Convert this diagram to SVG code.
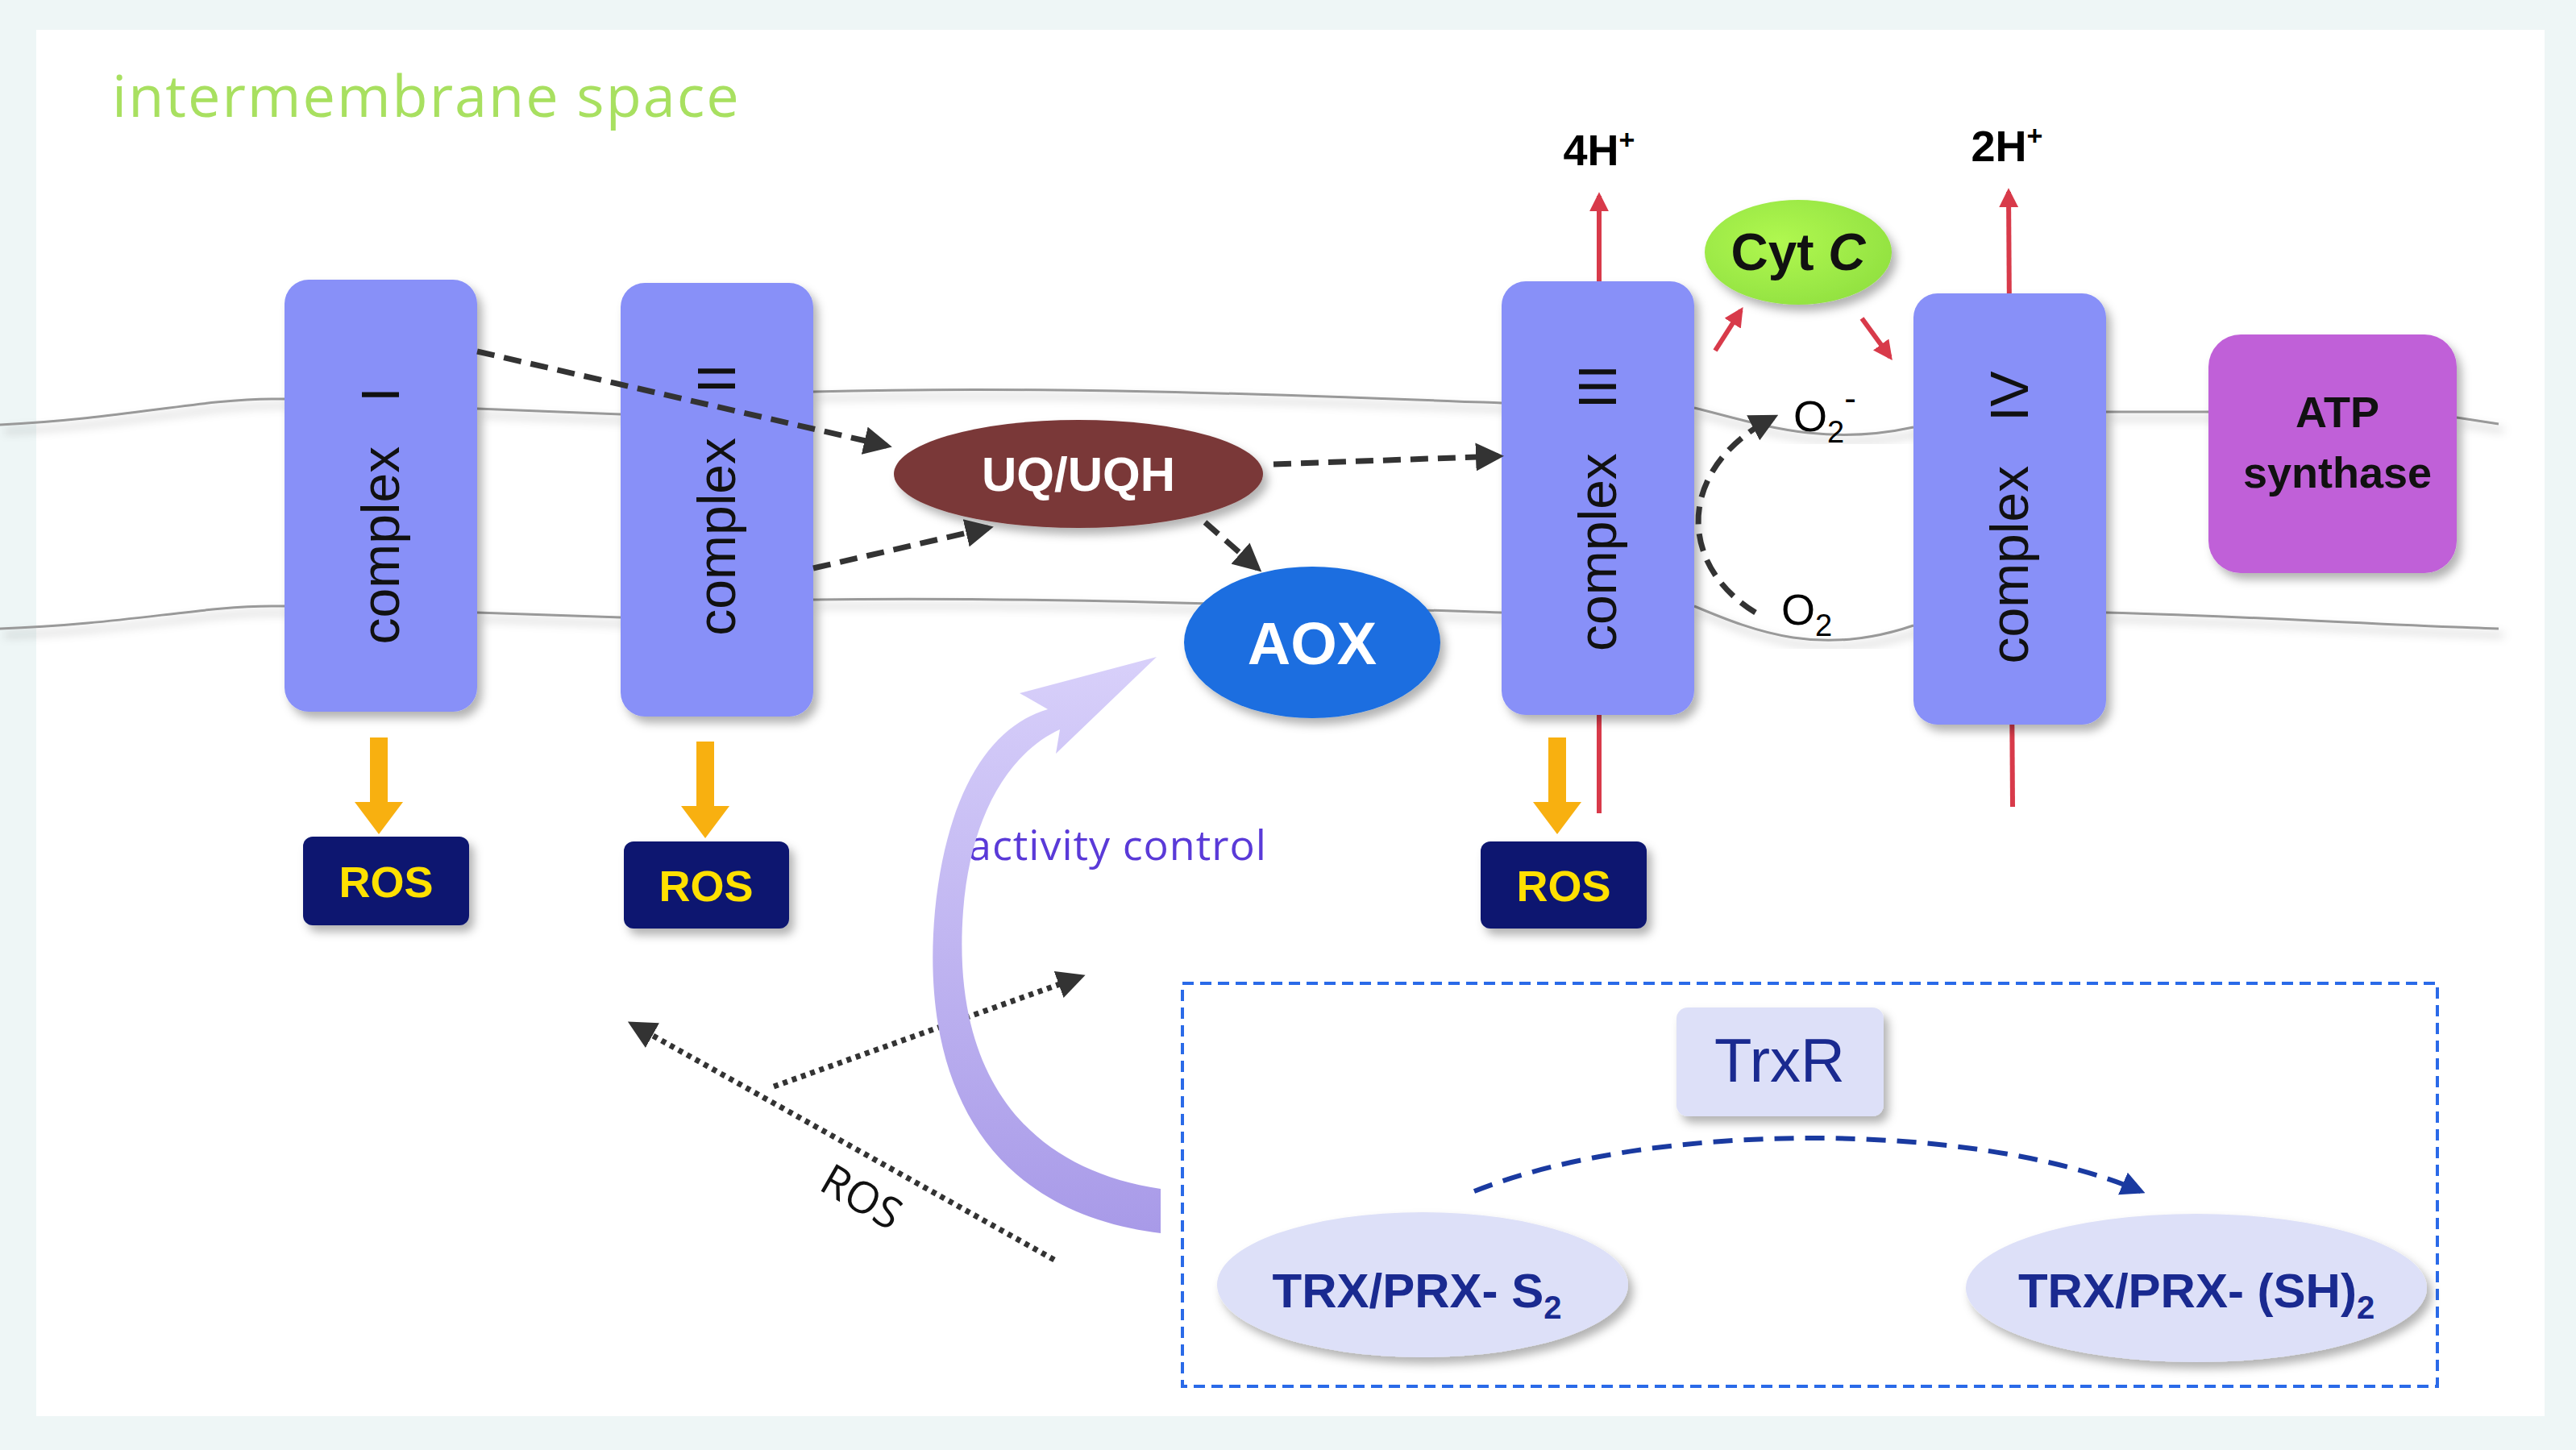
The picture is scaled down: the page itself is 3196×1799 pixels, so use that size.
<svg xmlns="http://www.w3.org/2000/svg" width="3196" height="1799" viewBox="0 0 3196 1799">
<defs>
<filter id="sh" x="-20%" y="-20%" width="140%" height="140%"><feDropShadow dx="6" dy="8" stdDeviation="6" flood-color="#000" flood-opacity="0.3"/></filter>
<marker id="ad" viewBox="0 0 10 10" refX="8" refY="5" markerWidth="5" markerHeight="5" orient="auto"><path d="M0,0 L10,5 L0,10 z" fill="#333"/></marker>
<marker id="ab" viewBox="0 0 10 10" refX="8" refY="5" markerWidth="5" markerHeight="5" orient="auto"><path d="M0,0 L10,5 L0,10 z" fill="#1a3aa0"/></marker>
<marker id="ar" viewBox="0 0 10 10" refX="8" refY="5" markerWidth="4" markerHeight="4" orient="auto"><path d="M0,0 L10,5 L0,10 z" fill="#d83a4a"/></marker>
<linearGradient id="pg" x1="0" y1="1" x2="0" y2="0"><stop offset="0" stop-color="#a89ae8"/><stop offset="1" stop-color="#d8d0fa"/></linearGradient>
<radialGradient id="cg" cx="0.4" cy="0.4" r="0.7"><stop offset="0" stop-color="#b0f850"/><stop offset="1" stop-color="#90e040"/></radialGradient>
</defs>
<style>
.cx{fill:#8890f8;filter:url(#sh)}
.ct{font-family:"Liberation Sans",Arial,sans-serif;font-size:66px;fill:#111}
.mem{fill:none;stroke:#999;stroke-width:3;filter:url(#sh)}
.ros{fill:#0c1670;filter:url(#sh)}
.rt{font-family:"Liberation Sans",Arial,sans-serif;font-size:54px;font-weight:bold;fill:#ffe000}
.dash{fill:none;stroke:#333;stroke-width:7;stroke-dasharray:22 12;marker-end:url(#ad)}
.dot{fill:none;stroke:#333;stroke-width:7;stroke-dasharray:6 6;marker-end:url(#ad)}
.red{stroke:#d83a4a;stroke-width:6;marker-end:url(#ar)}
.b{font-family:"Liberation Sans",Arial,sans-serif;font-weight:bold}
</style>
<rect width="3196" height="1799" fill="#eef6f6"/>
<rect x="45" y="37" width="3112" height="1720" fill="#fff"/>
<text x="139" y="145" font-family="'Open Sans',sans-serif" font-size="72" letter-spacing="2" fill="#a8e060">intermembrane space</text>
<g id="membrane">
<path class="mem" d="M0,527 C150,520 250,495 337,495 L353,495 M592,507 L770,514 M1009,486 C1300,478 1600,490 1863,500 M2102,506 C2180,525 2260,555 2374,530 M2613,511 L2740,511 M3048,518 L3100,526"/>
<path class="mem" d="M0,780 C150,775 250,752 337,752 L353,752 M592,760 L770,766 M1009,744 C1300,740 1600,752 1863,760 M2102,752 C2180,785 2260,815 2374,776 M2613,760 C2800,765 2950,775 3100,780"/>
</g>
<g id="redlines">
<line class="red" x1="1984" y1="1009" x2="1984" y2="243"/>
<line class="red" x1="2497" y1="1001" x2="2492" y2="238"/>
</g>
<g id="complex1"><rect class="cx" x="353" y="347" width="239" height="536" rx="30"/><text class="ct" transform="translate(495,640) rotate(-90)" text-anchor="middle" xml:space="preserve">complex   I</text></g>
<g id="complex2"><rect class="cx" x="770" y="351" width="239" height="538" rx="30"/><text class="ct" transform="translate(912,620) rotate(-90)" text-anchor="middle" xml:space="preserve">complex   II</text></g>
<g id="complex3"><rect class="cx" x="1863" y="349" width="239" height="538" rx="30"/><text class="ct" transform="translate(2005,630) rotate(-90)" text-anchor="middle" xml:space="preserve">complex   III</text></g>
<g id="complex4"><rect class="cx" x="2374" y="364" width="239" height="535" rx="30"/><text class="ct" transform="translate(2516,642) rotate(-90)" text-anchor="middle" xml:space="preserve">complex   IV</text></g>
<g id="atp"><rect x="2740" y="415" width="308" height="296" rx="40" fill="#c060d8" filter="url(#sh)"/><text class="b" x="2900" y="530" font-size="54" text-anchor="middle" fill="#111">ATP</text><text class="b" x="2900" y="605" font-size="54" text-anchor="middle" fill="#111">synthase</text></g>
<g id="uq"><ellipse cx="1338" cy="588" rx="229" ry="67" fill="#7a3838" filter="url(#sh)"/><text class="b" x="1338" y="609" font-size="60" fill="#fff" text-anchor="middle">UQ/UQH</text></g>
<g id="aox"><ellipse cx="1628" cy="797" rx="159" ry="94" fill="#1a6ee0" filter="url(#sh)"/><text class="b" x="1628" y="824" font-size="74" fill="#fff" text-anchor="middle">AOX</text></g>
<g id="cytc"><ellipse cx="2231" cy="313" rx="116" ry="65" fill="url(#cg)" filter="url(#sh)"/><text class="b" x="2231" y="335" font-size="64" fill="#111" text-anchor="middle">Cyt <tspan font-style="italic">C</tspan></text></g>
<g id="ros1"><rect class="ros" x="376" y="1038" width="206" height="110" rx="12"/><text class="rt" x="479" y="1113" text-anchor="middle">ROS</text></g>
<g id="ros2"><rect class="ros" x="774" y="1044" width="205" height="108" rx="12"/><text class="rt" x="876" y="1118" text-anchor="middle">ROS</text></g>
<g id="ros3"><rect class="ros" x="1837" y="1044" width="206" height="108" rx="12"/><text class="rt" x="1940" y="1118" text-anchor="middle">ROS</text></g>
<g id="labels" font-family="'Liberation Sans',Arial,sans-serif">
<text class="b" x="1984" y="205" font-size="54" text-anchor="middle">4H<tspan font-size="34" dy="-20">+</tspan></text>
<text class="b" x="2490" y="200" font-size="54" text-anchor="middle">2H<tspan font-size="34" dy="-20">+</tspan></text>
<text x="2225" y="535" font-size="54">O<tspan font-size="38" dy="14">2</tspan><tspan font-size="44" dy="-40">-</tspan></text>
<text x="2210" y="775" font-size="54">O<tspan font-size="38" dy="14">2</tspan></text>
<text x="1201" y="1067" font-family="'Open Sans',sans-serif" font-size="52" letter-spacing="1" fill="#5a3ad8">activity control</text>
<text x="1010" y="1490" font-family="'Open Sans',sans-serif" font-size="54" fill="#111" transform="rotate(30 1040 1490)">ROS</text>
</g>
<g id="redox">
<rect x="1467" y="1220" width="1557" height="500" fill="none" stroke="#2a6ae8" stroke-width="4" stroke-dasharray="14 8"/>
<g id="trxr"><rect x="2080" y="1250" width="257" height="135" rx="14" fill="#dde0f8" filter="url(#sh)"/><text x="2208" y="1342" font-family="'Liberation Sans',Arial,sans-serif" font-size="76" fill="#1a2a90" text-anchor="middle">TrxR</text></g>
<g id="trxs2"><ellipse cx="1765" cy="1594" rx="255" ry="90" fill="#dde0f8" filter="url(#sh)"/><text class="b" x="1758" y="1622" font-size="60" fill="#1a2a90" text-anchor="middle">TRX/PRX- S<tspan font-size="40" dy="14">2</tspan></text></g>
<g id="trxsh"><ellipse cx="2725" cy="1598" rx="286" ry="92" fill="#dde0f8" filter="url(#sh)"/><text class="b" x="2725" y="1622" font-size="60" fill="#1a2a90" text-anchor="middle">TRX/PRX- (SH)<tspan font-size="40" dy="14">2</tspan></text></g>
</g>
<g id="connectors">
<path d="M470,915 V1000" stroke="#f8b010" stroke-width="22"/><path d="M440,995 L500,995 L470,1035 z" fill="#f8b010"/>
<path d="M875,920 V1005" stroke="#f8b010" stroke-width="22"/><path d="M845,1000 L905,1000 L875,1040 z" fill="#f8b010"/>
<path d="M1932,915 V1000" stroke="#f8b010" stroke-width="22"/><path d="M1902,995 L1962,995 L1932,1035 z" fill="#f8b010"/>
<line class="red" x1="2128" y1="435" x2="2160" y2="385"/>
<line class="red" x1="2310" y1="395" x2="2345" y2="443"/>
<path class="dash" d="M592,436 L1100,553"/>
<path class="dash" d="M1009,705 L1226,655"/>
<path class="dash" d="M1580,576 L1859,566"/>
<path class="dash" d="M1495,648 L1560,705"/>
<path class="dash" d="M2178,760 C2080,700 2080,580 2200,518" stroke-width="5"/>
<path d="M1829,1478 C2050,1390 2450,1390 2656,1478" fill="none" stroke="#1a3aa0" stroke-width="6" stroke-dasharray="24 14" marker-end="url(#ab)"/>
<path class="dot" d="M1308,1563 L785,1271"/>
<path class="dot" d="M960,1348 L1340,1212"/>
<path d="M1440,1530 C1230,1505 1140,1350 1160,1130 C1175,980 1230,900 1300,880 L1265,860 L1435,815 L1310,935 L1315,905 C1260,930 1205,1000 1195,1130 C1180,1330 1270,1450 1440,1475 z" fill="url(#pg)"/>
</g>
</svg>
